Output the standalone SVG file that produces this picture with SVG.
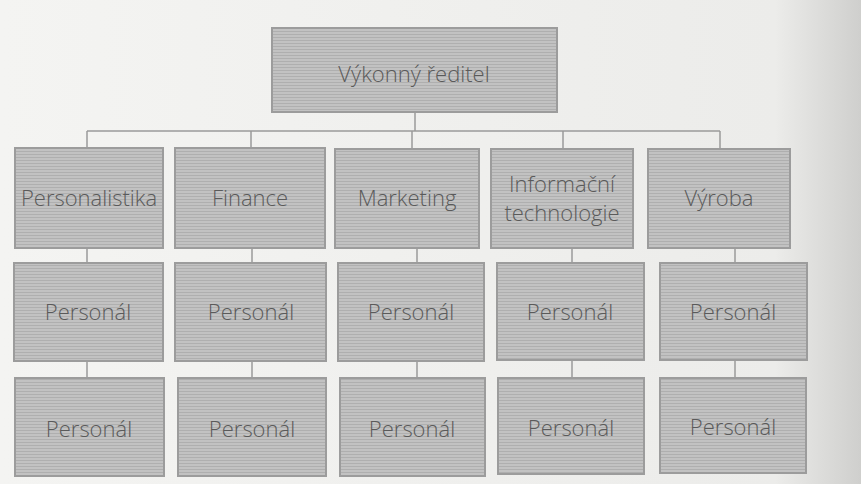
<svg xmlns="http://www.w3.org/2000/svg" width="861" height="484" viewBox="0 0 861 484">
<defs>
<linearGradient id="bg" x1="0" y1="0" x2="1" y2="0">
<stop offset="0" stop-color="#f4f4f2"/>
<stop offset="0.9" stop-color="#ececea"/>
<stop offset="1" stop-color="#cfcfcd"/>
</linearGradient>
<pattern id="hatch" width="4" height="3" patternUnits="userSpaceOnUse">
<rect width="4" height="3" fill="#c2c2c2"/>
<rect y="1" width="4" height="1" fill="#afafaf"/>
</pattern>
<style>
.box{fill:url(#hatch);stroke:#9c9c9c;stroke-width:2}
.t{font-family:"Open Sans","Noto Sans","DejaVu Sans",sans-serif;font-weight:300;font-size:22px;fill:#5a5a5a;text-anchor:middle}
.c{stroke:#9a9a9a;stroke-width:1.5;fill:none}
</style>
</defs>
<rect width="861" height="484" fill="url(#bg)"/>
<g id="connectors">
<path class="c" d="M415 112V131M87 131H720M87 131V148M251 131V148M412 131V149M563 131V149M720 131V148"/>
<path class="c" d="M87 248V263M252 248V263M417 248V263M572 248V263M735 248V263"/>
<path class="c" d="M87 361V378M252 361V378M417 361V378M572 360V378M735 360V378"/>
</g>
<g id="ceo"><rect class="box" x="272" y="28" width="285" height="84"/><text class="t" x="414" y="82">Výkonný ředitel</text></g>
<g id="hr"><rect class="box" x="15" y="148" width="148" height="100"/><text class="t" x="89" y="206">Personalistika</text></g>
<g id="fin"><rect class="box" x="175" y="148" width="150" height="100"/><text class="t" x="250" y="206">Finance</text></g>
<g id="mkt"><rect class="box" x="335" y="149" width="144" height="99"/><text class="t" x="407" y="206">Marketing</text></g>
<g id="it"><rect class="box" x="491" y="149" width="142" height="99"/><text class="t" x="562" y="192">Informační</text><text class="t" x="562" y="221">technologie</text></g>
<g id="vyr"><rect class="box" x="648" y="149" width="142" height="99"/><text class="t" x="719" y="206">Výroba</text></g>
<g id="hr1"><rect class="box" x="14" y="263" width="149" height="98"/><text class="t" x="88" y="320">Personál</text></g>
<g id="fin1"><rect class="box" x="175" y="263" width="151" height="98"/><text class="t" x="251" y="320">Personál</text></g>
<g id="mkt1"><rect class="box" x="338" y="263" width="146" height="98"/><text class="t" x="411" y="320">Personál</text></g>
<g id="it1"><rect class="box" x="497" y="263" width="147" height="97"/><text class="t" x="570" y="320">Personál</text></g>
<g id="vyr1"><rect class="box" x="660" y="263" width="147" height="97"/><text class="t" x="733" y="320">Personál</text></g>
<g id="hr2"><rect class="box" x="15" y="378" width="149" height="98"/><text class="t" x="89" y="437">Personál</text></g>
<g id="fin2"><rect class="box" x="178" y="378" width="148" height="98"/><text class="t" x="252" y="437">Personál</text></g>
<g id="mkt2"><rect class="box" x="340" y="378" width="145" height="98"/><text class="t" x="412" y="437">Personál</text></g>
<g id="it2"><rect class="box" x="498" y="378" width="146" height="96"/><text class="t" x="571" y="436">Personál</text></g>
<g id="vyr2"><rect class="box" x="660" y="378" width="146" height="95"/><text class="t" x="733" y="435">Personál</text></g>
</svg>
